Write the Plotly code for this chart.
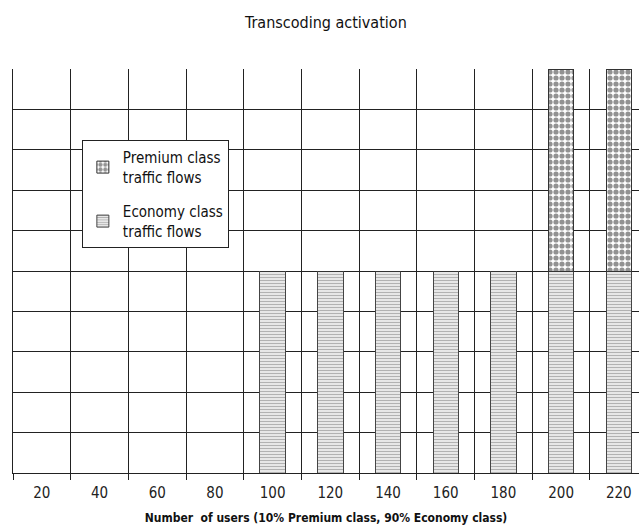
import plotly.graph_objects as go

# Number of users per scenario (category labels)
users = ["20", "40", "60", "80", "100", "120", "140", "160", "180", "200", "220"]

# Transcoding activation per traffic class
economy = [0, 0, 0, 0, 5, 5, 5, 5, 5, 5, 5]
premium = [0, 0, 0, 0, 0, 0, 0, 0, 0, 5, 5]

NARROW = "DejaVu Sans Condensed, Liberation Sans Narrow, Arial Narrow, sans-serif"

fig = go.Figure()

fig.add_trace(go.Bar(
    x=users, y=economy,
    name="Economy class<br>traffic flows",
    legendgroup="economy",
    legendrank=2,
    width=0.44,
    marker=dict(
        color="white",
        line=dict(color="#444444", width=1),
        pattern=dict(shape="-", fgcolor="#666666", bgcolor="white",
                     size=3, solidity=0.55),
    ),
))

fig.add_trace(go.Bar(
    x=users, y=premium,
    name="Premium class<br>traffic flows",
    legendgroup="premium",
    legendrank=1,
    width=0.44,
    marker=dict(
        color="white",
        line=dict(color="#333333", width=1),
        pattern=dict(shape=".", fgcolor="#262626", bgcolor="white",
                     size=6, solidity=0.6),
    ),
))

fig.update_layout(
    width=639, height=527,
    barmode="stack",
    paper_bgcolor="white",
    plot_bgcolor="white",
    margin=dict(l=13, r=0, t=69, b=54),
    title=dict(
        text="Transcoding activation",
        x=0.51, xanchor="center",
        y=1 - 22 / 527, yref="container", yanchor="middle",
        font=dict(family=NARROW, size=16, color="#111111"),
    ),
    font=dict(family="Liberation Sans, Arial, sans-serif", color="#111111"),
    showlegend=True,
    legend=dict(
        x=0.110, y=0.824, xanchor="left", yanchor="top",
        bgcolor="white", bordercolor="#222222", borderwidth=1,
        traceorder="grouped",
        font=dict(family=NARROW, size=15, color="#111111"),
        itemwidth=30,
        tracegroupgap=12,
    ),
)

fig.update_xaxes(
    type="category",
    range=[-0.5, 10.35],
    tickson="boundaries",
    showgrid=True, gridcolor="#222222", gridwidth=1,
    showline=True, linecolor="#222222", linewidth=1,
    ticks="outside", ticklen=6, tickcolor="#222222",
    ticklabelstandoff=6,
    tickfont=dict(family=NARROW, size=15, color="#222222"),
    title=dict(
        text="<b>Number  of users (10% Premium class, 90% Economy class)</b>",
        font=dict(family=NARROW, size=12, color="#111111"),
        standoff=12,
    ),
    zeroline=False,
)

fig.update_yaxes(
    range=[0, 10],
    dtick=1,
    showgrid=True, gridcolor="#222222", gridwidth=1,
    showline=True, linecolor="#222222", linewidth=1,
    showticklabels=False,
    ticks="",
    zeroline=False,
)

fig.write_html("out.html")
